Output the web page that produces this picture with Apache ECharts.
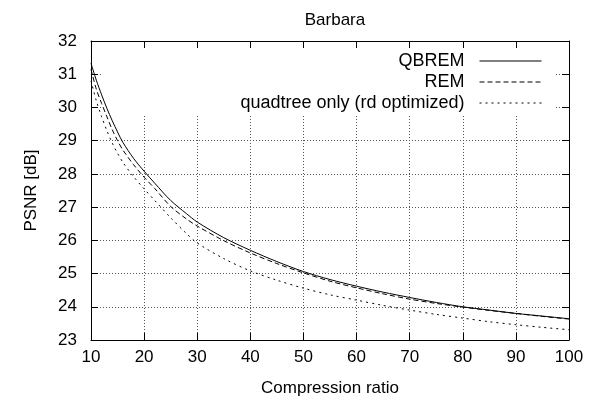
<!DOCTYPE html>
<html>
<head>
<meta charset="utf-8">
<script src="https://cdn.jsdelivr.net/npm/echarts@6/dist/echarts.min.js"></script>
<style>
  html, body { margin: 0; padding: 0; background: #fff; }
  #main { width: 600px; height: 409px; }
</style>
</head>
<body>
<div id="main"></div>
<script>
// compression ratios where the curves were read
const ratios = [10, 11, 12, 13, 14, 15, 16, 18, 20, 22, 25, 28, 30, 35, 40, 45, 50, 55, 60, 65, 70, 75, 80, 85, 90, 95, 100];
// PSNR [dB] per method
const qbrem    = [31.33, 30.82, 30.38, 29.97, 29.6, 29.26, 28.95, 28.47, 28.08, 27.72, 27.2, 26.8, 26.55, 26.08, 25.7, 25.36, 25.06, 24.82, 24.62, 24.44, 24.28, 24.13, 24.0, 23.9, 23.8, 23.72, 23.64];
const rem      = [31.15, 30.55, 30.12, 29.72, 29.33, 29.0, 28.72, 28.28, 27.9, 27.56, 27.02, 26.64, 26.43, 25.99, 25.62, 25.3, 25.02, 24.77, 24.57, 24.39, 24.23, 24.1, 23.99, 23.89, 23.8, 23.71, 23.63];
const quadtree = [30.8, 30.2, 29.72, 29.3, 28.93, 28.62, 28.35, 27.92, 27.55, 27.2, 26.68, 26.2, 25.92, 25.45, 25.08, 24.8, 24.56, 24.36, 24.2, 24.04, 23.9, 23.77, 23.66, 23.55, 23.46, 23.38, 23.31];
const seriesNames = ['QBREM', 'REM', 'quadtree only (rd optimized)'];

const font = 'Liberation Sans, Arial, Helvetica, sans-serif';
const chart = echarts.init(document.getElementById('main'), null, { renderer: 'canvas' });

function pairs(vals) {
  return ratios.map((r, i) => [r, vals[i]]);
}

const gridDots = { show: true, lineStyle: { color: '#555', type: [1, 2], width: 1 } };

function line(name, vals, dash) {
  return {
    name: name,
    type: 'line',
    data: pairs(vals),
    symbol: 'none',
    smooth: 0.3,
    z: 3,
    color: '#000',
    lineStyle: { color: '#000', width: 1, type: dash }
  };
}

const option = {
  backgroundColor: '#fff',
  textStyle: { fontFamily: font, color: '#000' },
  title: {
    text: 'Barbara',
    left: 330,
    top: 7,
    textAlign: 'center',
    textStyle: { fontFamily: font, fontSize: 17, fontWeight: 'normal', color: '#000' }
  },
  grid: { left: 91, right: 31, top: 41, bottom: 69 },
  legend: {
    orient: 'vertical',
    align: 'right',
    right: 58,
    top: 51,
    padding: 0,
    itemWidth: 62,
    itemHeight: 14,
    itemGap: 1,
    selectedMode: false,
    itemStyle: { opacity: 0 },
    lineStyle: { width: 1 },
    textStyle: { fontFamily: font, fontSize: 18, color: '#000', lineHeight: 20, padding: [0, 10, 0, 0] },
    data: seriesNames
  },
  // gnuplot key blanks the grid behind it
  graphic: {
    elements: [{
      type: 'rect',
      z: 1,
      shape: { x: 101, y: 49, width: 455, height: 66 },
      style: { fill: '#fff' }
    }]
  },
  xAxis: [{
    type: 'value',
    min: 10, max: 100, interval: 10,
    name: 'Compression ratio',
    nameLocation: 'middle',
    nameGap: 40,
    nameTextStyle: { fontFamily: font, fontSize: 17, color: '#000' },
    axisLine: { show: true, onZero: false, lineStyle: { color: '#000', width: 1 } },
    axisTick: { inside: true, length: 7, lineStyle: { color: '#000' } },
    axisLabel: { fontFamily: font, fontSize: 17, color: '#000', margin: 9 },
    splitLine: gridDots
  }, {
    type: 'value',
    position: 'top',
    min: 10, max: 100, interval: 10,
    axisLine: { show: true, onZero: false, lineStyle: { color: '#000', width: 1 } },
    axisTick: { inside: true, length: 7, lineStyle: { color: '#000' } },
    axisLabel: { show: false },
    splitLine: { show: false }
  }],
  yAxis: [{
    type: 'value',
    min: 23, max: 32, interval: 1,
    name: 'PSNR [dB]',
    nameLocation: 'middle',
    nameGap: 51,
    nameTextStyle: { fontFamily: font, fontSize: 17, color: '#000' },
    axisLine: { show: true, onZero: false, lineStyle: { color: '#000', width: 1 } },
    axisTick: { inside: true, length: 7, lineStyle: { color: '#000' } },
    axisLabel: { fontFamily: font, fontSize: 17, color: '#000', margin: 14 },
    splitLine: gridDots
  }, {
    type: 'value',
    position: 'right',
    min: 23, max: 32, interval: 1,
    axisLine: { show: true, onZero: false, lineStyle: { color: '#000', width: 1 } },
    axisTick: { inside: true, length: 7, lineStyle: { color: '#000' } },
    axisLabel: { show: false },
    splitLine: { show: false }
  }],
  series: [
    line(seriesNames[0], qbrem, 'solid'),
    line(seriesNames[1], rem, [5, 3]),
    line(seriesNames[2], quadtree, [2, 4])
  ]
};

chart.setOption(option);
</script>
</body>
</html>
